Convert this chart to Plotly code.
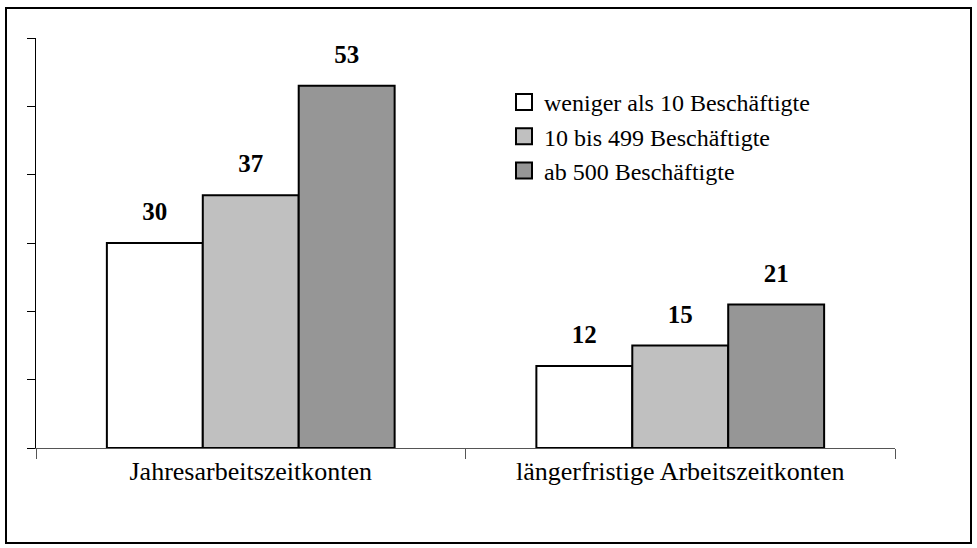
import plotly.graph_objects as go

categories = ["Jahresarbeitszeitkonten", "längerfristige Arbeitszeitkonten"]
series_names = ["weniger als 10 Beschäftigte", "10 bis 499 Beschäftigte", "ab 500 Beschäftigte"]
values_small = [30, 12]
values_mid = [37, 15]
values_large = [53, 21]
series_values = [values_small, values_mid, values_large]
colors = ["#FFFFFF", "#C0C0C0", "#969696"]

W, H = 977, 548
L, R, T, B = 36, 82, 38, 100
FONT = "Liberation Serif, Times New Roman, serif"

fig = go.Figure()
for name, vals, col in zip(series_names, series_values, colors):
    fig.add_trace(go.Bar(
        x=categories, y=vals, name=name, showlegend=False,
        marker=dict(color=col, line=dict(color="black", width=2)),
        text=[str(v) for v in vals], textposition="outside",
        textfont=dict(family=FONT, size=13, color="black"),
        texttemplate="<span style='font-size:25px'><b>%{text}</b></span><br>&nbsp;",
        cliponaxis=False,
    ))
for name, col in zip(series_names, colors):
    fig.add_trace(go.Scatter(
        x=[None], y=[None], mode="markers", name=name,
        marker=dict(symbol="square", size=16, color=col, line=dict(color="black", width=2)),
    ))

pw = W - L - R
ph = H - T - B
fig.add_shape(type="rect", xref="paper", yref="paper",
              x0=(6 - L) / pw, x1=(971 - L) / pw,
              y0=1 - (543 - T) / ph, y1=1 - (8 - T) / ph,
              line=dict(color="black", width=2), fillcolor="rgba(0,0,0,0)", layer="below")

fig.update_layout(
    width=W, height=H,
    margin=dict(l=L, r=R, t=T, b=B),
    paper_bgcolor="white", plot_bgcolor="white",
    barmode="group", bargap=0.33, bargroupgap=0,
    font=dict(family=FONT, color="black"),
    uniformtext=dict(mode=False),
    legend=dict(x=(504 - L) / pw, y=1 - (80 - T) / ph, xanchor="left", yanchor="top",
                font=dict(family="Liberation Serif", size=24, color="black"),
                bgcolor="rgba(0,0,0,0)", itemwidth=30, tracegroupgap=0),
    xaxis=dict(showline=True, linecolor="#555555", linewidth=1,
               ticks="outside", tickson="boundaries", ticklen=10, tickcolor="#555555",
               tickfont=dict(family=FONT, size=26, color="black"),
               showgrid=False, zeroline=False),
    yaxis=dict(range=[0, 60], dtick=10, showline=True, linecolor="black", linewidth=1,
               ticks="outside", ticklen=8, tickcolor="black", showticklabels=False,
               showgrid=False, zeroline=False),
)

fig.write_html("out.html", config={"displayModeBar": False},
               post_script="document.body.style.margin='0';document.body.style.padding='0';")
